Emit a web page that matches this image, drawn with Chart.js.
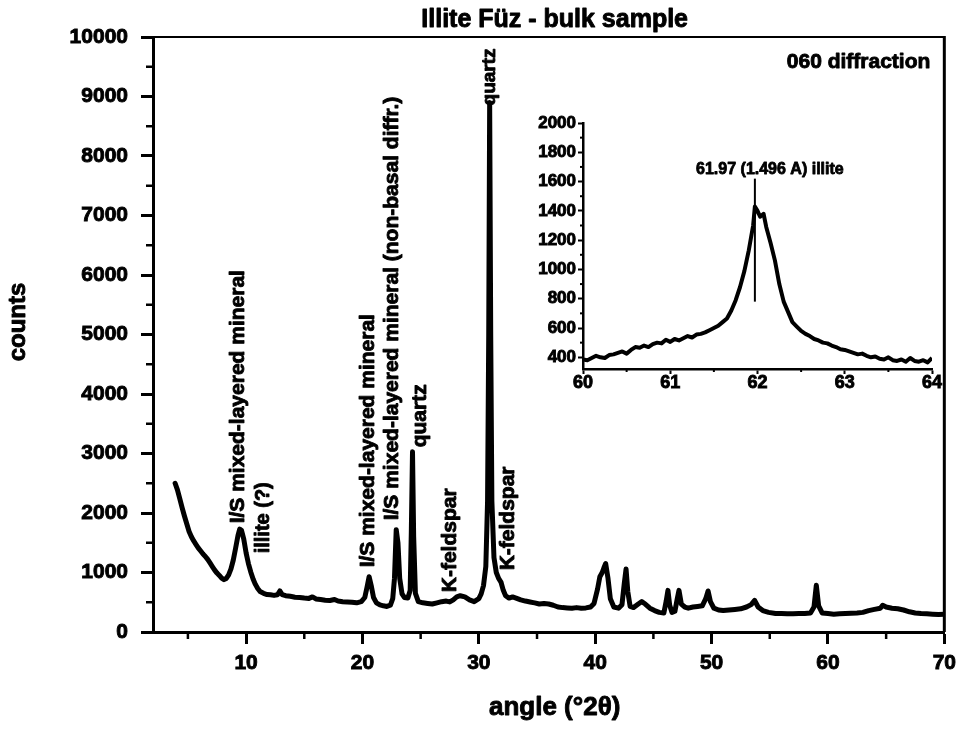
<!DOCTYPE html>
<html>
<head>
<meta charset="utf-8">
<title>Illite Füz - bulk sample</title>
<script src="https://cdn.jsdelivr.net/npm/chart.js@4.4.1/dist/chart.umd.min.js"></script>
<style>
body { margin: 0; background: #fff; }
#wrap { position: relative; width: 963px; height: 731px; }
#main { position: absolute; left: 0; top: 0; }
#inset { position: absolute; left: 500px; top: 100px; }
</style>
</head>
<body>
<div id="wrap">
<canvas id="main" width="963" height="731"></canvas>
<canvas id="inset" width="450" height="300"></canvas>
</div>
<script>
// bulk scan, degrees 2-theta vs counts
const angle = [3.9,4.1,4.3,4.5,4.7,4.9,5.1,5.3,5.5,5.7,5.9,6.1,6.3,6.5,6.7,6.9,7.1,7.3,7.5,7.7,7.9,8.1,8.3,8.5,8.7,8.9,9.1,9.3,9.45,9.6,9.8,10.0,10.2,10.4,10.6,10.8,11.0,11.2,11.5,11.8,12.1,12.4,12.7,12.9,13.1,13.4,13.8,14.2,14.6,15.0,15.4,15.7,16.0,16.4,16.8,17.2,17.6,17.9,18.3,18.7,19.1,19.5,19.9,20.2,20.4,20.57,20.75,20.95,21.2,21.5,21.8,22.1,22.4,22.6,22.75,22.9,23.05,23.2,23.4,23.6,23.9,24.1,24.2,24.3,24.4,24.55,24.8,25.2,25.6,26.0,26.4,26.8,27.2,27.5,27.8,28.1,28.4,28.8,29.2,29.6,30.0,30.2,30.4,30.6,30.75,30.85,30.93,31.02,31.12,31.3,31.5,31.7,31.9,32.1,32.3,32.6,32.9,33.2,33.6,34.0,34.4,34.8,35.2,35.6,36.0,36.4,36.8,37.2,37.6,38.0,38.4,38.8,39.2,39.6,39.9,40.2,40.4,40.6,40.75,40.9,41.1,41.3,41.6,42.0,42.3,42.5,42.65,42.8,43.0,43.3,43.7,44.0,44.3,44.7,45.1,45.5,45.9,46.1,46.25,46.4,46.6,46.85,47.05,47.2,47.4,47.7,48.0,48.4,48.8,49.2,49.5,49.7,49.9,50.2,50.6,51.0,51.5,52.0,52.5,53.0,53.4,53.7,54.0,54.4,54.9,55.5,56.0,56.5,57.0,57.5,58.0,58.5,58.8,59.0,59.2,59.5,60.0,60.5,61.0,61.5,62.0,62.5,63.0,63.5,64.0,64.5,64.7,65.0,65.5,66.0,66.5,67.0,67.5,68.0,68.5,69.0,69.5,70.0];
const counts = [2500,2390,2240,2090,1950,1820,1690,1600,1530,1470,1410,1360,1310,1270,1220,1160,1100,1040,990,950,905,880,900,960,1060,1210,1410,1620,1730,1710,1560,1330,1150,1010,890,800,730,680,650,630,625,615,625,690,630,610,600,585,580,570,565,590,555,545,535,530,545,520,510,505,500,490,510,580,760,930,780,580,490,455,440,430,450,560,900,1720,1500,900,640,580,570,700,1700,3030,1600,650,510,490,480,470,490,510,520,505,540,590,610,590,540,510,560,640,780,1100,2200,5000,8900,5000,2200,1250,1000,900,840,700,610,570,590,570,540,520,505,490,470,480,470,450,420,410,405,400,410,400,405,420,480,720,930,1000,1080,1150,900,560,420,400,460,820,1060,680,430,410,470,510,470,400,360,330,320,520,700,450,330,350,560,700,470,420,400,420,430,440,560,690,510,400,370,360,370,380,390,420,460,530,420,360,330,310,310,305,305,310,310,320,420,785,440,320,310,300,305,310,315,320,330,360,380,400,450,420,400,390,370,340,320,310,305,300,295,300];

// slow scan over the 060 reflection
const insetAngle = [60.00,60.05,60.10,60.15,60.20,60.25,60.30,60.35,60.40,60.45,60.50,60.55,60.60,60.65,60.70,60.75,60.80,60.85,60.90,60.95,61.00,61.05,61.10,61.15,61.20,61.25,61.30,61.35,61.40,61.45,61.50,61.55,61.60,61.65,61.70,61.75,61.80,61.85,61.90,61.95,61.97,62.00,62.03,62.07,62.10,62.15,62.20,62.25,62.30,62.35,62.40,62.45,62.50,62.55,62.60,62.65,62.70,62.75,62.80,62.85,62.90,62.95,63.00,63.05,63.10,63.15,63.20,63.25,63.30,63.35,63.40,63.45,63.50,63.55,63.60,63.65,63.70,63.75,63.80,63.85,63.90,63.95,64.00];
const insetCounts = [385,380,395,410,400,395,415,420,430,440,425,450,470,465,480,470,490,500,495,520,505,525,515,530,545,535,555,560,570,585,600,615,640,665,720,790,880,990,1130,1300,1430,1400,1360,1380,1290,1180,1060,900,780,710,640,610,580,560,545,525,515,500,495,480,470,455,450,440,430,420,425,410,400,405,390,385,400,380,375,385,370,395,375,370,380,365,395];
const peakPos = 61.97;
const peakMark = [780, 1620];

const xTicks = [10, 20, 30, 40, 50, 60, 70];
const xMinor = [5, 15, 25, 35, 45, 55, 65];
const yTicks = [0, 1000, 2000, 3000, 4000, 5000, 6000, 7000, 8000, 9000, 10000];
const yMinor = [500, 1500, 2500, 3500, 4500, 5500, 6500, 7500, 8500, 9500];
const insetXTicks = [60, 61, 62, 63, 64];
const insetXMinor = [60.5, 61.5, 62.5, 63.5];
const insetYTicks = [400, 600, 800, 1000, 1200, 1400, 1600, 1800, 2000];
const insetYMinor = [500, 700, 900, 1100, 1300, 1500, 1700, 1900];

// phase names written up the peaks: text, angle, counts where the text starts
const peakNames = ['I/S mixed-layered mineral', 'illite (?)', 'I/S mixed-layered mineral',
  'I/S mixed-layered mineral (non-basal diffr.)', 'quartz', 'K-feldspar', 'quartz', 'K-feldspar'];
const nameAngle = [9.34, 11.49, 20.5, 22.55, 24.92, 27.54, 30.97, 32.56];
const nameCounts = [1826, 1322, 1087, 1877, 3103, 668, 8850, 1036];
const nameSize = [21, 20, 21, 21, 21, 21, 19, 21];

const FONT = '"Liberation Sans", Arial, sans-serif';
Chart.defaults.font.family = FONT;
Chart.defaults.color = '#000';

function pts(xs, ys) { return xs.map((x, i) => ({ x: x, y: ys[i] })); }
function fixTicks(list) { return s => { s.ticks = list.map(v => ({ value: v })); }; }
const plain = v => String(v);

// heavy text: fill plus a thin outline
function heavyText(ctx, t, x, y) {
  ctx.fillText(t, x, y);
  ctx.strokeText(t, x, y);
}

function minorX(ctx, scale, vals, len, w) {
  const b = scale.chart.chartArea.bottom;
  ctx.lineWidth = w;
  vals.forEach(v => {
    const p = scale.getPixelForValue(v);
    ctx.beginPath(); ctx.moveTo(p, b); ctx.lineTo(p, b + len); ctx.stroke();
  });
}
function minorY(ctx, scale, vals, len, w) {
  const l = scale.chart.chartArea.left;
  ctx.lineWidth = w;
  vals.forEach(v => {
    const p = scale.getPixelForValue(v);
    ctx.beginPath(); ctx.moveTo(l - len, p); ctx.lineTo(l, p); ctx.stroke();
  });
}

const mainDecor = {
  id: 'mainDecor',
  afterDraw(chart) {
    const ctx = chart.ctx, a = chart.chartArea;
    const sx = chart.scales.x, sy = chart.scales.y;
    ctx.save();
    ctx.strokeStyle = '#000';
    ctx.fillStyle = '#000';
    // frame top and right
    ctx.lineWidth = 2;
    ctx.beginPath(); ctx.moveTo(a.left, a.top); ctx.lineTo(a.right, a.top); ctx.stroke();
    ctx.lineWidth = 3;
    ctx.beginPath(); ctx.moveTo(a.right, a.top - 1); ctx.lineTo(a.right, a.bottom); ctx.stroke();
    minorX(ctx, sx, xMinor, 7, 2.5);
    minorY(ctx, sy, yMinor, 7, 2.5);

    ctx.lineWidth = 0.9;
    ctx.lineJoin = 'round';
    // peak names, reading upwards
    ctx.textAlign = 'left';
    ctx.textBaseline = 'middle';
    peakNames.forEach((t, i) => {
      ctx.save();
      ctx.translate(sx.getPixelForValue(nameAngle[i]), sy.getPixelForValue(nameCounts[i]));
      ctx.rotate(-Math.PI / 2);
      ctx.font = 'bold ' + nameSize[i] + 'px ' + FONT;
      heavyText(ctx, t, 0, 0);
      ctx.restore();
    });

    ctx.textBaseline = 'alphabetic';
    ctx.font = 'bold 25px ' + FONT;
    ctx.textAlign = 'center';
    heavyText(ctx, 'Illite Füz - bulk sample', (a.left + a.right) / 2 + 6, a.top - 10);
    ctx.font = 'bold 26px ' + FONT;
    heavyText(ctx, 'angle (°2θ)', (a.left + a.right) / 2 + 6, a.bottom + 83);
    ctx.font = 'bold 21px ' + FONT;
    ctx.textAlign = 'right';
    heavyText(ctx, '060 diffraction', a.right - 14, a.top + 31);

    ctx.save();
    ctx.translate(18, 322);
    ctx.rotate(-Math.PI / 2);
    ctx.textAlign = 'center';
    ctx.textBaseline = 'middle';
    ctx.font = 'bold 24px ' + FONT;
    heavyText(ctx, 'counts', 0, 0);
    ctx.restore();
    ctx.restore();
  }
};

const insetDecor = {
  id: 'insetDecor',
  afterDraw(chart) {
    const ctx = chart.ctx;
    const sx = chart.scales.x, sy = chart.scales.y;
    ctx.save();
    ctx.strokeStyle = '#000';
    ctx.fillStyle = '#000';
    minorX(ctx, sx, insetXMinor, 3, 2);
    minorY(ctx, sy, insetYMinor, 3, 2);
    ctx.lineWidth = 0.8;
    ctx.lineJoin = 'round';
    ctx.font = 'bold 16px ' + FONT;
    ctx.textAlign = 'center';
    ctx.textBaseline = 'alphabetic';
    heavyText(ctx, '61.97 (1.496 A) illite', sx.getPixelForValue(peakPos) + 15, sy.getPixelForValue(peakMark[1]) - 5);
    ctx.restore();
  }
};

const axisBase = {
  grid: { drawOnChartArea: false, drawTicks: true, tickColor: '#000' },
  border: { color: '#000' }
};
const tickInk = { textStrokeColor: '#000', textStrokeWidth: 0.9, autoSkip: false, callback: plain };

new Chart(document.getElementById('main'), {
  type: 'line',
  data: {
    datasets: [{
      data: pts(angle, counts),
      borderColor: '#000',
      borderWidth: 5,
      pointRadius: 0,
      tension: 0,
      borderJoinStyle: 'round',
      borderCapStyle: 'round'
    }]
  },
  options: {
    responsive: false,
    animation: false,
    devicePixelRatio: 1,
    layout: { padding: { left: 0, top: 37, right: 16, bottom: 0 } },
    plugins: { legend: { display: false }, tooltip: { enabled: false } },
    scales: {
      x: {
        type: 'linear', min: 2, max: 70,
        afterBuildTicks: fixTicks(xTicks),
        afterFit: s => { s.height = 99; },
        grid: { ...axisBase.grid, tickLength: 12, tickWidth: 3 },
        border: { ...axisBase.border, width: 3 },
        ticks: { ...tickInk, maxRotation: 0, padding: 7, font: { size: 21, weight: 'bold' } }
      },
      y: {
        type: 'linear', min: 0, max: 10000,
        afterBuildTicks: fixTicks(yTicks),
        afterFit: s => { s.width = 153; },
        grid: { ...axisBase.grid, tickLength: 12, tickWidth: 3 },
        border: { ...axisBase.border, width: 3 },
        ticks: { ...tickInk, padding: 13, font: { size: 21, weight: 'bold' } }
      }
    }
  },
  plugins: [mainDecor]
});

new Chart(document.getElementById('inset'), {
  type: 'line',
  data: {
    datasets: [{
      data: pts(insetAngle, insetCounts),
      borderColor: '#000',
      borderWidth: 4,
      pointRadius: 0,
      tension: 0,
      borderJoinStyle: 'round'
    }, {
      data: pts([peakPos, peakPos], peakMark),
      borderColor: '#000',
      borderWidth: 2,
      pointRadius: 0
    }]
  },
  options: {
    responsive: false,
    animation: false,
    devicePixelRatio: 1,
    layout: { padding: { left: 0, top: 23, right: 18, bottom: 0 } },
    plugins: { legend: { display: false }, tooltip: { enabled: false } },
    scales: {
      x: {
        type: 'linear', min: 60, max: 64,
        afterBuildTicks: fixTicks(insetXTicks),
        afterFit: s => { s.height = 31; },
        grid: { ...axisBase.grid, tickLength: 5, tickWidth: 2 },
        border: { ...axisBase.border, width: 2.5 },
        ticks: { ...tickInk, maxRotation: 0, padding: 0, font: { size: 18, weight: 'bold', lineHeight: 1 } }
      },
      y: {
        type: 'linear', min: 320, max: 2000,
        afterBuildTicks: fixTicks(insetYTicks),
        afterFit: s => { s.width = 83; },
        grid: { ...axisBase.grid, tickLength: 5, tickWidth: 2 },
        border: { ...axisBase.border, width: 2.5 },
        ticks: { ...tickInk, padding: 2, font: { size: 17, weight: 'bold' } }
      }
    }
  },
  plugins: [insetDecor]
});
</script>
</body>
</html>
